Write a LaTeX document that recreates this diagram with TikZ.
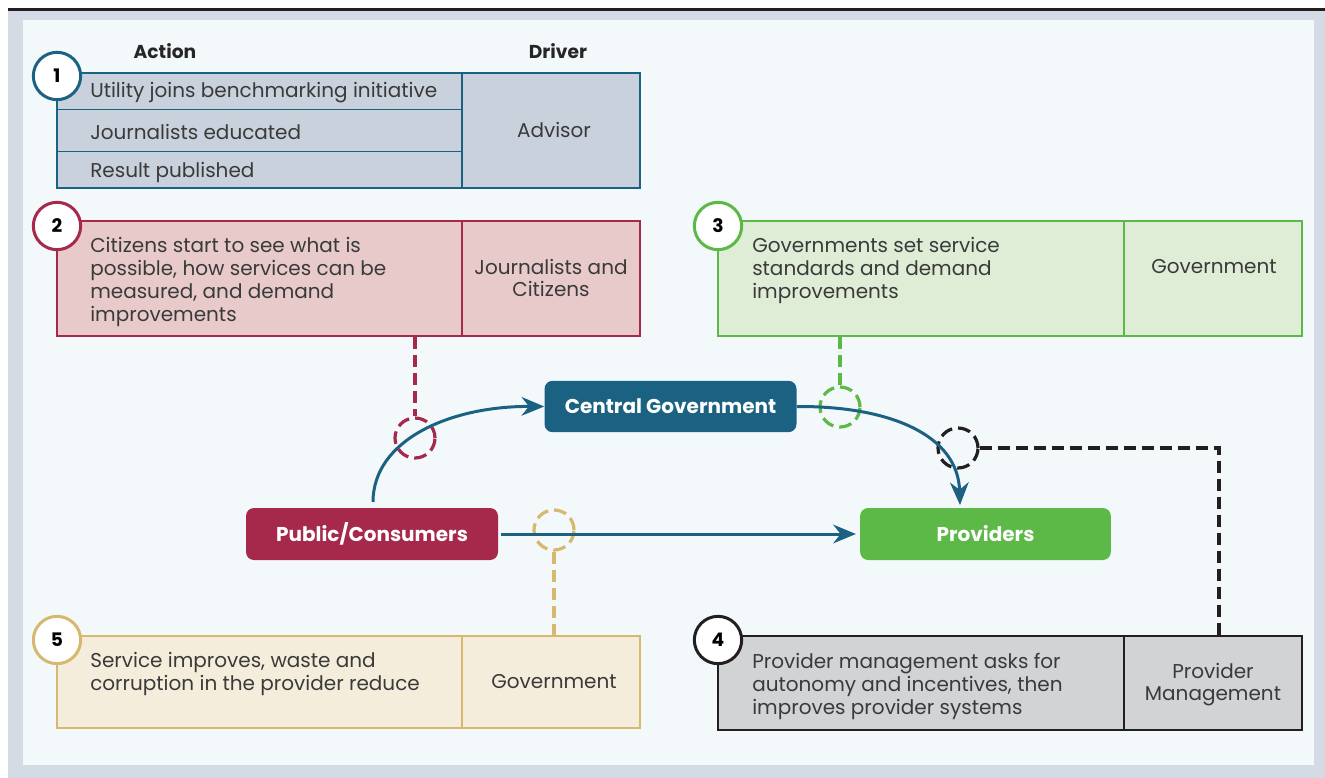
\documentclass[tikz,border=0pt]{standalone}
\usepackage{fontspec}
\setmainfont{Poppins}
\usetikzlibrary{arrows.meta,fit}
\definecolor{bgc}{HTML}{D4DBE5}
\definecolor{panel}{HTML}{F3F8FB}
\definecolor{teal}{HTML}{1B6282}
\definecolor{tealfill}{HTML}{C9D1DD}
\definecolor{redc}{HTML}{A6294B}
\definecolor{redfill}{HTML}{E8CACA}
\definecolor{greenc}{HTML}{5CB947}
\definecolor{greenfill}{HTML}{DFEDD6}
\definecolor{tanc}{HTML}{D6B86E}
\definecolor{tanfill}{HTML}{F5EDDC}
\definecolor{darkc}{HTML}{231F20}
\definecolor{greyfill}{HTML}{D2D3D5}
\definecolor{txt}{HTML}{3A3A3A}
\tikzset{
  boxstyle/.style={draw=#1, line width=1.9pt, inner sep=0pt},
  numcirc/.style={circle, draw=#1, fill=white, line width=2.25pt, minimum size=35.5pt, inner sep=0pt, font=\fontsize{14}{16}\selectfont\bfseries, text=black},
  bodytxt/.style={inner sep=0pt, align=left, text=txt, font=\fontsize{15}{17.25}\selectfont},
  drvtxt/.style={inner sep=0pt, align=center, text=txt, font=\fontsize{15}{16.5}\selectfont},
  headtxt/.style={inner sep=0pt, text=black!85, font=\fontsize{14}{16}\selectfont\bfseries},
  mainnode/.style={fill=#1, rounded corners=6pt, inner sep=0pt, text=white, font=\fontsize{15}{17}\selectfont\bfseries},
  flow/.style={draw=teal, line width=2.25pt, -{Stealth[length=17pt, width=14pt, inset=5.5pt]}},
  dcirc/.style={circle, draw=#1, line width=2.4pt, dash pattern=on 9.5pt off 4.5pt, minimum size=30pt, inner sep=0pt},
  dline/.style={draw=#1, line width=2.4pt, dash pattern=on 9pt off 4.5pt},
}
\begin{document}
\begin{tikzpicture}[x=0.75pt,y=-0.75pt]
\useasboundingbox (0,0) rectangle (1325,778);
\fill[white] (0,0) rectangle (1325,778);
\fill[bgc] (8,10) rectangle (1325,778);
\draw[line width=2.25pt, darkc] (8,9) -- (1325,9);
\fill[panel] (23,20) rectangle (1314,765);

% headers
\node[headtxt] (hact) at (165,51) {Action};
\node[headtxt] (hdrv) at (558,51) {Driver};

% box 1
\node[boxstyle=teal, fill=tealfill, fit={(57,73) (640,188)}] (b1) {};
\draw[teal, line width=1pt] (57,109.5) -- (462,109.5);
\draw[teal, line width=1pt] (57,151.5) -- (462,151.5);
\draw[teal, line width=1.9pt] (462,73) -- (462,188);
\node[bodytxt, anchor=west] (t1a) at (90,93) {Utility joins benchmarking initiative};
\node[bodytxt, anchor=west] (t1b) at (90,132) {Journalists educated};
\node[bodytxt, anchor=west] (t1c) at (90,172) {Result published};
\node[drvtxt] (d1) at (554,130) {Advisor};
\node[numcirc=teal] (c1) at (57,76) {1};

% box 2
\node[boxstyle=redc, fill=redfill, fit={(57,221) (640,336)}] (b2) {};
\draw[redc, line width=1.9pt] (462,221) -- (462,336);
\node[bodytxt, anchor=west] (t2) at (90,282) {Citizens start to see what is\\possible, how services can be\\measured, and demand\\improvements};
\node[drvtxt] (d2) at (551,278) {Journalists and\\Citizens};
\node[numcirc=redc] (c2) at (57,226) {2};

% box 3
\node[boxstyle=greenc, fill=greenfill, fit={(718,221) (1302,336)}] (b3) {};
\draw[greenc, line width=1.9pt] (1124,221) -- (1124,336);
\node[bodytxt, anchor=west] (t3) at (752,270) {Governments set service\\standards and demand\\improvements};
\node[drvtxt] (d3) at (1214,267) {Government};
\node[numcirc=greenc] (c3) at (718,226) {3};

% box 5
\node[boxstyle=tanc, fill=tanfill, fit={(57,636) (640,728)}] (b5) {};
\draw[tanc, line width=1.9pt] (462,636) -- (462,728);
\node[bodytxt, anchor=west] (t5) at (90,674) {Service improves, waste and\\corruption in the provider reduce};
\node[drvtxt] (d5) at (554,682) {Government};
\node[numcirc=tanc] (c5) at (57,640) {5};

% box 4
\node[boxstyle=darkc, fill=greyfill, fit={(718,636) (1302,730)}] (b4) {};
\draw[darkc, line width=1.9pt] (1124,636) -- (1124,730);
\node[bodytxt, anchor=west] (t4) at (752,686) {Provider management asks for\\autonomy and incentives, then\\improves provider systems};
\node[drvtxt] (d4) at (1213,685) {Provider\\Management};
\node[numcirc=darkc] (c4) at (718,640) {4};

% main nodes
\node[mainnode=teal, minimum width=189pt, minimum height=38.5pt] (cg) at (670.5,406.5) {Central Government};
\node[mainnode=redc, minimum width=189pt, minimum height=39pt] (pc) at (372,534) {Public/Consumers};
\node[mainnode=greenc, minimum width=188pt, minimum height=39pt] (pr) at (985.5,534) {Providers};

% dashed connectors
\node[dcirc=redc] (dc2) at (415,438) {};
\node[dcirc=greenc] (dc3) at (840,407) {};
\node[dcirc=darkc] (dc4) at (958,448) {};
\node[dcirc=tanc] (dc5) at (554,530) {};
\draw[dline=redc] (b2.south -| dc2) -- (dc2.north);
\draw[dline=greenc] (b3.south -| dc3) -- (dc3.north);
\draw[dline=tanc] (dc5.south) -- (b5.north -| dc5);
\coordinate (k4) at (1219,448);
\draw[dline=darkc] (dc4.east) -- (k4) -- (b4.north -| k4);

% flows
\coordinate (tipx) at (960,0);
\draw[flow] (373,502) .. controls (373,440) and (450,406) .. (cg.west);
\draw[flow] (cg.east) .. controls (890,406) and (958,435) .. ([yshift=2pt]pr.north -| tipx);
\draw[flow] ([xshift=2pt]pc.east) -- ([xshift=-3pt]pr.west);
\end{tikzpicture}
\end{document}
